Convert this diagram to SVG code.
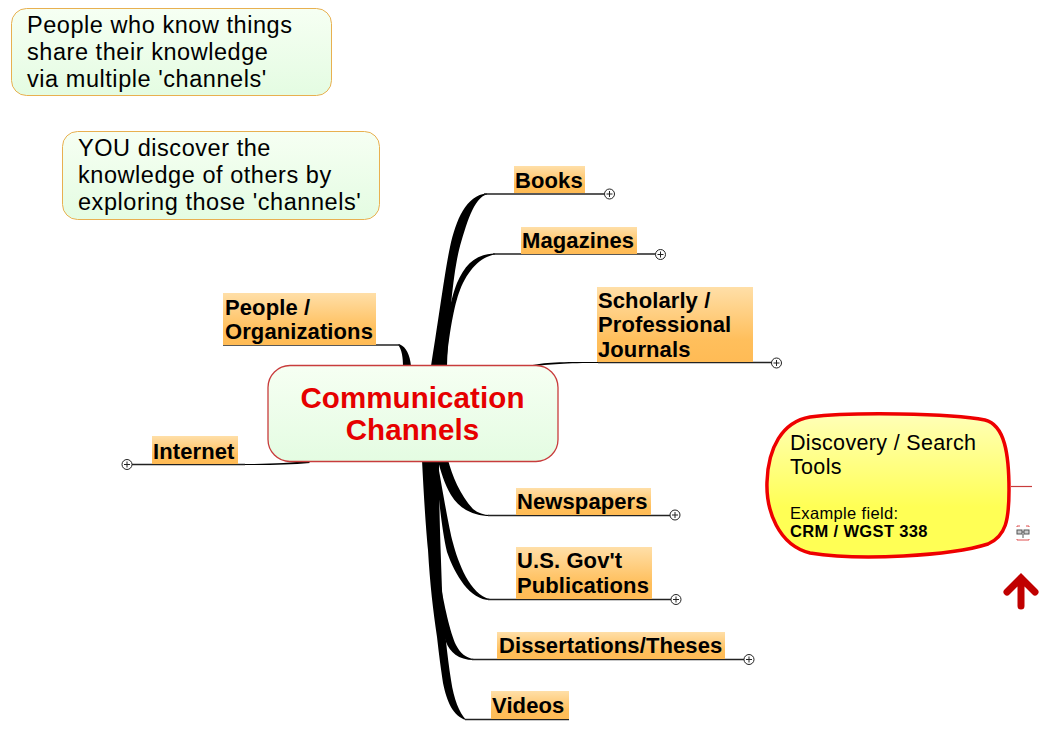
<svg xmlns="http://www.w3.org/2000/svg" width="1061" height="753" viewBox="0 0 1061 753">
<style>
.t{font-family:"Liberation Sans",Arial,sans-serif;font-weight:700;font-size:22px;fill:#000;letter-spacing:.1px}
.n{font-family:"Liberation Sans",Arial,sans-serif;font-size:23.5px;fill:#000;letter-spacing:.55px}
.c{font-family:"Liberation Sans",Arial,sans-serif;font-weight:700;font-size:29.5px;fill:#e60000;letter-spacing:.1px}
.d{font-family:"Liberation Sans",Arial,sans-serif;font-size:21.5px;fill:#000;letter-spacing:.33px}
.s{font-family:"Liberation Sans",Arial,sans-serif;font-size:16.5px;fill:#000;letter-spacing:.35px}
.b{fill:url(#o)}
.l{stroke:#222;stroke-width:1.3;fill:none}
.w{fill:#000;stroke:none}
.e{fill:#fff;stroke:#222;stroke-width:1}
.note{fill:url(#g);stroke:#e8b050;stroke-width:1}
</style>
<defs>
<linearGradient id="o" x1="0" y1="0" x2="0" y2="1"><stop offset="0" stop-color="#ffdfa8"/><stop offset=".7" stop-color="#ffbf5c"/><stop offset="1" stop-color="#ffbb55"/></linearGradient>
<linearGradient id="g" x1="0" y1="0" x2="0" y2="1"><stop offset="0" stop-color="#f6fff3"/><stop offset="1" stop-color="#e4fce2"/></linearGradient>
<linearGradient id="y" x1="0" y1="0" x2="0" y2="1"><stop offset="0" stop-color="#ffffb8"/><stop offset=".65" stop-color="#ffff55"/><stop offset="1" stop-color="#ffff55"/></linearGradient>
<g id="ex"><circle r="5" class="e"/><path d="M-3 0H3M0-3V3" stroke="#222" stroke-width="1"/></g>
</defs>
<rect width="1061" height="753" fill="#fff"/>
<g id="connectors">
<path class="w" d="M431 366C437 330 445 270 450 247C456 220 466 195 487 193.500V194.500C474 197 466 225 459 250C453 275 449 320 447 366Z"/>
<path class="w" d="M440 366C444 335 450 300 457 283C465 265 475 254 495 253.500V254.500C480 257 468 270 460 290C454 305 449 335 446 366Z"/>
<path class="w" d="M528 366C545 362 560 362 600 362V363C565 363 550 364 530 367Z"/>
<path class="w" d="M403 366C403 358 402 350 398 344.500H400C406 347 410 355 411 366Z"/>
<path class="w" d="M308 461C290 463 270 464 240 464V465C270 465 290 465 310 463Z"/>
<path class="w" d="M438 460H448C452 475 460 495 473 509C478 513 484 515 490 515V516C475 516 460 510 451 495C445 485 440 470 438 460Z"/>
<path class="w" d="M437 460C441 480 448 525 453 543C458 562 470 595 490 599V600C470 600 455 575 447 552C443 535 440 510 438 490Z"/>
<path class="w" d="M440 580C444 605 450 632 456 645C460 653 466 658 474 659V660C458 660 450 652 446 642C442 630 440 610 440 580Z"/>
<path class="w" d="M422 460C424 500 426 530 428 550C430 585 433 610 437 637C439 655 441 670 443 683C447 702 453 716 466 720C459 712 454 700 451 680C447 655 444 625 442 590C441 555 439 520 439 460Z"/>
<path class="l" d="M484 194H604"/><path class="l" d="M493 254H656"/><path class="l" d="M598 362.500H772"/>
<path class="l" d="M223 345H400"/><path class="l" d="M132 464.500H245"/>
<path class="l" d="M488 515.500H670"/><path class="l" d="M488 599.500H671"/><path class="l" d="M472 659.500H744"/><path class="l" d="M465 719.500H569"/>
</g>
<g id="note1"><rect class="note" x="11.500" y="8.500" width="320" height="87" rx="15"/><text class="n" x="27" y="33">People who know things</text><text class="n" x="27" y="60">share their knowledge</text><text class="n" x="27" y="87">via multiple 'channels'</text></g>
<g id="note2"><rect class="note" x="62.500" y="131.500" width="317" height="88" rx="15"/><text class="n" x="78" y="156">YOU discover the</text><text class="n" x="78" y="183">knowledge of others by</text><text class="n" x="78" y="210">exploring those 'channels'</text></g>
<g id="books"><rect class="b" x="514" y="166" width="71" height="27"/><text class="t" x="515" y="188">Books</text><use href="#ex" x="609.500" y="194"/></g>
<g id="magazines"><rect class="b" x="521" y="227" width="116" height="27"/><text class="t" x="522" y="248">Magazines</text><use href="#ex" x="660.500" y="254.500"/></g>
<g id="journals"><rect class="b" x="597" y="287" width="156" height="75"/><text class="t" x="598" y="308">Scholarly /</text><text class="t" x="598" y="332">Professional</text><text class="t" x="598" y="357">Journals</text><use href="#ex" x="776.500" y="363"/></g>
<g id="people"><rect class="b" x="223" y="293" width="153" height="52"/><text class="t" x="225" y="315">People /</text><text class="t" x="225" y="339">Organizations</text></g>
<g id="internet"><rect class="b" x="152" y="436" width="86" height="28"/><text class="t" x="153" y="459">Internet</text><use href="#ex" x="127" y="464.500"/></g>
<g id="newspapers"><rect class="b" x="516" y="488" width="135" height="27"/><text class="t" x="517" y="509">Newspapers</text><use href="#ex" x="675" y="515"/></g>
<g id="gov"><rect class="b" x="516" y="547" width="136" height="52"/><text class="t" x="517" y="568">U.S. Gov't</text><text class="t" x="517" y="593">Publications</text><use href="#ex" x="676" y="599.500"/></g>
<g id="dissertations"><rect class="b" x="497" y="632" width="228" height="27"/><text class="t" x="499" y="653">Dissertations/Theses</text><use href="#ex" x="749" y="659.500"/></g>
<g id="videos"><rect class="b" x="491" y="691" width="78" height="28"/><text class="t" x="492" y="713">Videos</text></g>
<g id="center"><rect x="268" y="365.500" width="290" height="96" rx="22" fill="url(#g)" stroke="#c83c3c" stroke-width="1.300"/>
<text class="c" x="412.500" y="408" text-anchor="middle">Communication</text>
<text class="c" x="412.500" y="440" text-anchor="middle">Channels</text></g>
<g id="discovery"><path d="M810 417C850 412 950 413 985 420C1005 425 1009 455 1009 490C1009 520 1006 536 988 544C950 556 860 561 810 553C778 545 766 510 767 482C768 448 782 422 810 417Z" fill="url(#y)" stroke="#ee0000" stroke-width="3.500"/>
<path d="M1011 486.500H1032" stroke="#c83c3c" stroke-width="1.200"/>
<text class="d" x="790" y="450">Discovery / Search</text><text class="d" x="790" y="474">Tools</text>
<text class="s" x="790" y="519">Example field:</text><text class="s" x="790" y="537" font-weight="700">CRM / WGST 338</text>
<g id="icon" fill="none"><path d="M1017 527V526H1020M1026 526H1029V527M1017 539V540H1029V539" stroke="#e05050" stroke-width="1"/><rect x="1017" y="530" width="5" height="4" stroke="#555" fill="#ccc"/><rect x="1024" y="530" width="5" height="4" stroke="#555" fill="#ccc"/><path d="M1022 532H1024M1023 534V538" stroke="#555"/></g>
<path d="M1021 606V578M1007 592L1021 578L1035 592" fill="none" stroke="#c00000" stroke-width="7" stroke-linecap="round" stroke-linejoin="miter"/></g>
</svg>
